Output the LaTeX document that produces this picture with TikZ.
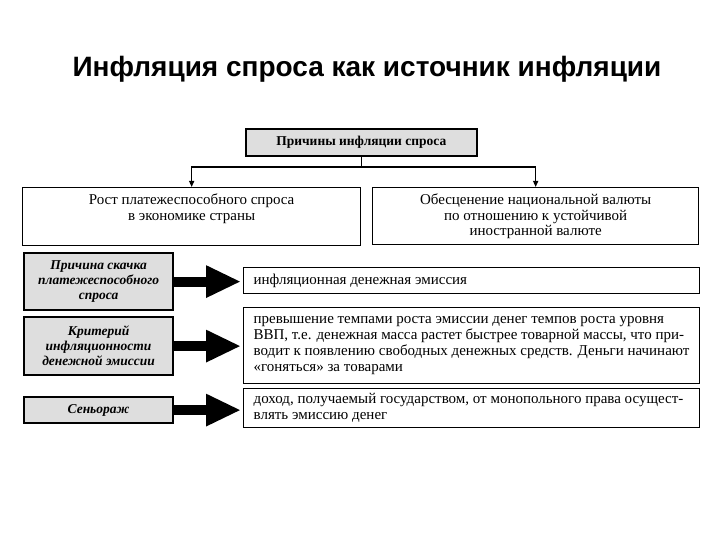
\documentclass[tikz,border=0pt]{standalone}
\usepackage{fontspec}
\setmainfont{Liberation Serif}
\newfontfamily\titlefont{Liberation Sans}
\usetikzlibrary{arrows.meta}
\definecolor{boxgray}{HTML}{DEDEDE}
\tikzset{
  headbox/.style={draw, line width=1.6pt, fill=boxgray, inner sep=0pt, anchor=north west,
    font=\fontsize{13.5}{16}\selectfont\bfseries},
  widebox/.style={draw, line width=1.3pt, inner sep=0pt, anchor=north west,
    font=\fontsize{15}{15.5}\selectfont},
  graybox/.style={draw, line width=2.2pt, fill=boxgray, inner sep=0pt, anchor=north west,
    align=center, font=\fontsize{13.5}{15}\selectfont\bfseries\itshape},
  textbox/.style={draw, line width=1.3pt, inner sep=0pt, anchor=north west,
    font=\fontsize{15}{16}\selectfont},
  thinarrow/.style={line width=1.3pt, -{Triangle[length=6pt,width=5pt]}},
  blockarrow/.style={line width=10pt, -{Triangle[length=35pt,width=30pt]}, shorten >=2pt},
}
\begin{document}
\begin{tikzpicture}[x=1pt,y=-1pt]
\useasboundingbox (0,0) rectangle (720,540);
\node[font=\titlefont\fontsize{28}{32}\selectfont\bfseries] (title) at (367,69) {Инфляция спроса как источник инфляции};

\node[headbox, minimum width=231pt, minimum height=27pt] (top) at (245,128) {Причины инфляции спроса};

\node[widebox] (left) at (22,187) {\parbox[c][58pt][t]{338pt}{\centering\vspace{6.5pt}Рост платежеспособного спроса\\в экономике страны}};
\node[widebox] (right) at (372,187) {\parbox[c][57pt][t]{326pt}{\centering\vspace{6.5pt}Обесценение национальной валюты\\по отношению к устойчивой\\иностранной валюте}};

\coordinate (j) at (top.south |- 0,167);
\draw[line width=1.3pt] (top.south) -- (j);
\draw[thinarrow] (j) -| (left.north);
\draw[thinarrow] (j) -| (right.north);

\node[graybox, minimum width=149pt, minimum height=57pt] (g1) at (23,252) {Причина скачка\\платежеспособного\\спроса};
\node[graybox, minimum width=149pt, minimum height=58pt] (g2) at (23,316) {Критерий\\инфляционности\\денежной эмиссии};
\node[graybox, minimum width=149pt, minimum height=26pt] (g3) at (23,396) {Сеньораж};

\node[textbox] (r1) at (243,267) {\parbox[c][26pt][c]{456pt}{\hspace*{10pt}инфляционная денежная эмиссия}};
\node[textbox] (r2) at (243,307) {\parbox[c][76pt][c]{456pt}{\leftskip=10pt\parindent=0pt
превышение темпами роста эмиссии денег темпов роста уровня\\
ВВП, т.е. денежная масса растет быстрее товарной массы, что при-\\
водит к появлению свободных денежных средств. Деньги начинают\\
«гоняться» за товарами}};
\node[textbox] (r3) at (243,388) {\parbox[c][39pt][c]{456pt}{\leftskip=10pt\parindent=0pt
доход, получаемый государством, от монопольного права осущест-\\
влять эмиссию денег}};

\draw[blockarrow] (g1.east) -- (g1.east -| r1.west);
\draw[blockarrow] (g2.east) -- (g2.east -| r2.west);
\draw[blockarrow] (g3.east) -- (g3.east -| r3.west);
\end{tikzpicture}
\end{document}
